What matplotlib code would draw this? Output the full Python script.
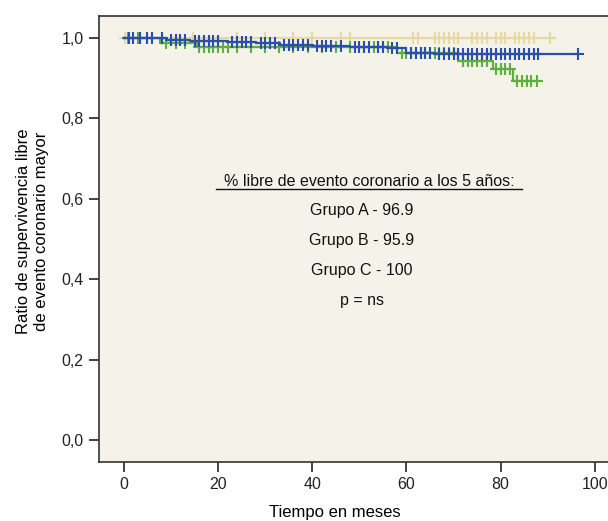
import matplotlib
matplotlib.use("Agg")
import matplotlib.pyplot as plt
import numpy as np

plt.rcParams['font.family'] = ['Liberation Sans', 'DejaVu Sans']

# Kaplan-Meier step data (event times and survival after each step)
grupoA_t = [0, 9, 14, 22, 28, 33, 40, 48, 56, 60, 66]
grupoA_s = [1.0, 0.996, 0.993, 0.990, 0.987, 0.984, 0.981, 0.978, 0.975, 0.964, 0.960]
grupoA_end = 96.4
grupoA_cens = [1, 2, 3.5, 5, 6, 8, 10, 11, 12, 13, 15, 16, 17, 18, 19, 20, 23, 24, 25, 26,
               27, 29, 30, 31, 32, 34, 35, 36, 37, 38, 39, 41, 42, 43, 44, 46, 49, 50, 51,
               52, 54, 55, 57, 58, 61, 62, 63, 64, 65, 67, 68, 69, 70, 71, 72, 73, 74, 75,
               76, 77, 78, 79, 80, 81, 82, 83, 84, 85, 86, 87, 88, 96.4]

grupoB_t = [0, 7.6, 15.5, 58, 71, 78.4, 82.6]
grupoB_s = [1.0, 0.988, 0.978, 0.962, 0.944, 0.924, 0.893]
grupoB_end = 87.7
grupoB_cens = [0.8, 3, 9, 11, 13, 16, 17, 18, 19, 20, 21, 22, 24, 27, 30, 33, 36, 39, 42,
               45, 48, 51, 53, 55, 56, 59, 60, 61, 62, 63, 64, 65, 66, 67, 68, 69, 70,
               72, 73, 74, 75, 76, 77, 79, 80, 81, 82, 83.5, 84.5, 85.5, 86.5, 87.7]

grupoC_t = [0]
grupoC_s = [1.0]
grupoC_end = 90.5
grupoC_cens = [0.3, 3, 14.6, 24, 30, 36, 40, 46, 48, 61.4, 62.4, 66, 67, 68, 69, 70, 71,
               74, 75, 76, 77, 79, 80, 81, 83, 84, 85, 86, 87, 90.5]

col_A = '#2a4faa'
col_B = '#5cb03e'
col_C = '#e6daa2'
bg = '#f5f2ea'

fig = plt.figure(figsize=(6.08, 5.21), dpi=100)
ax = fig.add_axes([99/608, 1-462/521, 1-99/608, (462-16)/521])
ax.set_facecolor(bg)


def km_value(ts, ss, t):
    idx = np.searchsorted(ts, t, side='right') - 1
    return ss[max(idx, 0)]


def draw(ts, ss, end, cens, color, z):
    x = list(ts) + [end]
    y = list(ss) + [ss[-1]]
    ax.step(x, y, where='post', color=color, lw=1.6, zorder=z)
    cy = [km_value(np.array(ts), ss, c) for c in cens]
    ax.plot(cens, cy, linestyle='none', marker='+', markersize=8, mew=1.5,
            color=color, zorder=z)


draw(grupoC_t, grupoC_s, grupoC_end, grupoC_cens, col_C, 2)
draw(grupoB_t, grupoB_s, grupoB_end, grupoB_cens, col_B, 3)
draw(grupoA_t, grupoA_s, grupoA_end, grupoA_cens, col_A, 4)

x_min, x_max = -5.3, 102.8
y_min, y_max = -0.055, 1.055
ax.set_xlim(x_min, x_max)
ax.set_ylim(y_min, y_max)

xticks = [0, 20, 40, 60, 80, 100]
yticks = [0.0, 0.2, 0.4, 0.6, 0.8, 1.0]
ytick_labels = ['0,0', '0,2', '0,4', '0,6', '0,8', '1,0']
ax.set_xticks(xticks)
ax.set_xticklabels([str(v) for v in xticks])
ax.set_yticks(yticks)
ax.set_yticklabels(ytick_labels)
ax.tick_params(direction='out', length=7, width=1.2, labelsize=11.5, colors='#222222', pad=4)

for s in ['left', 'bottom', 'top']:
    ax.spines[s].set_linewidth(1.2)
    ax.spines[s].set_color('#333333')
ax.spines['right'].set_visible(False)

ax.set_xlabel('Tiempo en meses', fontsize=12, va='center')
ax.xaxis.set_label_coords(0.4637, -0.114)
ax.set_ylabel('Ratio de supervivencia libre\nde evento coronario mayor', fontsize=12,
              linespacing=1.25, va='center')
ax.yaxis.set_label_coords(-0.1306, 0.517)

header = '% libre de evento coronario a los 5 años:'
lines = ['Grupo A - 96.9', 'Grupo B - 95.9', 'Grupo C - 100', 'p = ns']
ax.text(52.2, 0.644, header, ha='center', va='center', fontsize=11.5, color='#111111')
ax.plot([19.6, 84.5], [0.624, 0.624], color='#111111', lw=1.0)
for i, ln in enumerate(lines):
    ax.text(50.5, 0.57 - i * 0.0747, ln, ha='center', va='center', fontsize=11.5, color='#111111')

fig.savefig('out.png', dpi=100, facecolor='white')
